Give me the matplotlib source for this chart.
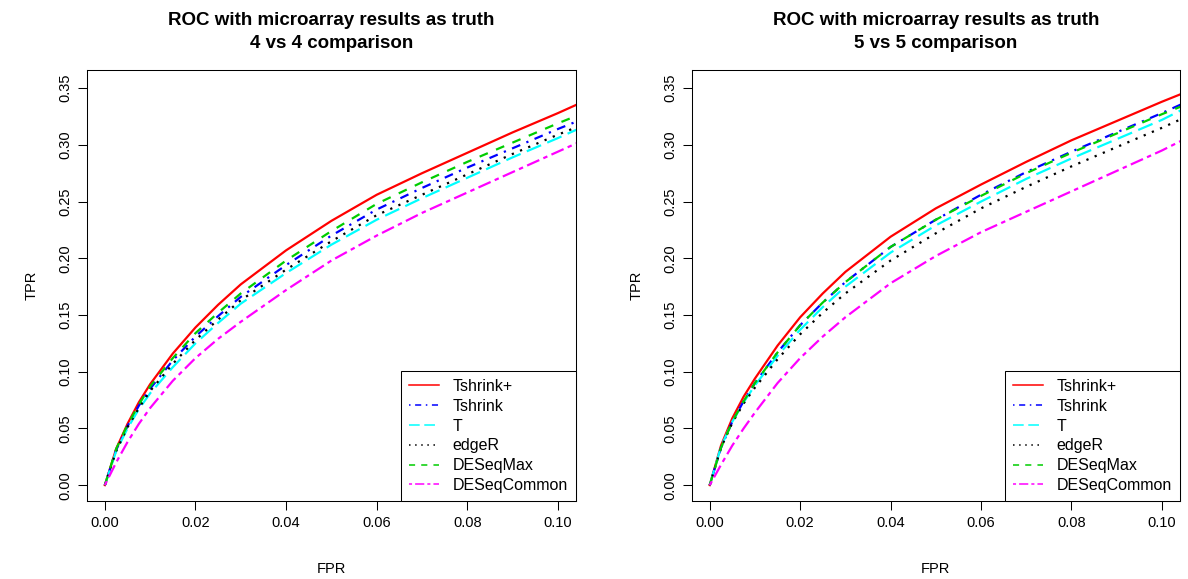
import matplotlib
matplotlib.use("Agg")
import matplotlib.pyplot as plt

plt.rcParams["font.family"] = ["Liberation Sans", "DejaVu Sans"]

# FPR grid shared by all curves
fpr = [0, 0.0025, 0.005, 0.0075, 0.01, 0.015, 0.02, 0.025, 0.03,
       0.04, 0.05, 0.06, 0.07, 0.08, 0.09, 0.10, 0.105]

methods = ["Tshrink+", "Tshrink", "T", "edgeR", "DESeqMax", "DESeqCommon"]

# 4 vs 4 comparison
tpr4_tshrink_plus = [0, 0.032, 0.054, 0.073, 0.089, 0.116, 0.139, 0.159, 0.177,
                     0.207, 0.233, 0.256, 0.275, 0.293, 0.311, 0.328, 0.337]
tpr4_tshrink = [0, 0.031, 0.052, 0.070, 0.085, 0.110, 0.131, 0.149, 0.166,
                0.194, 0.220, 0.243, 0.262, 0.280, 0.297, 0.314, 0.322]
tpr4_t = [0, 0.030, 0.050, 0.067, 0.081, 0.104, 0.125, 0.143, 0.160,
          0.187, 0.212, 0.234, 0.253, 0.271, 0.289, 0.306, 0.315]
tpr4_edger = [0, 0.030, 0.051, 0.068, 0.083, 0.107, 0.128, 0.146, 0.163,
              0.190, 0.215, 0.238, 0.256, 0.274, 0.292, 0.309, 0.317]
tpr4_deseqmax = [0, 0.032, 0.053, 0.071, 0.087, 0.112, 0.134, 0.152, 0.169,
                 0.198, 0.224, 0.248, 0.267, 0.285, 0.302, 0.319, 0.327]
tpr4_deseqcommon = [0, 0.020, 0.038, 0.054, 0.068, 0.092, 0.112, 0.129, 0.144,
                    0.172, 0.198, 0.220, 0.240, 0.258, 0.276, 0.294, 0.303]

# 5 vs 5 comparison
tpr5_tshrink_plus = [0, 0.035, 0.059, 0.078, 0.094, 0.123, 0.148, 0.169, 0.188,
                     0.219, 0.244, 0.265, 0.285, 0.304, 0.321, 0.338, 0.346]
tpr5_tshrink = [0, 0.033, 0.056, 0.074, 0.090, 0.117, 0.141, 0.161, 0.179,
                0.210, 0.234, 0.256, 0.276, 0.294, 0.311, 0.328, 0.337]
tpr5_t = [0, 0.034, 0.056, 0.073, 0.088, 0.114, 0.137, 0.157, 0.175,
          0.205, 0.229, 0.250, 0.270, 0.288, 0.305, 0.322, 0.332]
tpr5_edger = [0, 0.033, 0.055, 0.072, 0.086, 0.111, 0.133, 0.152, 0.169,
              0.198, 0.222, 0.244, 0.263, 0.281, 0.298, 0.315, 0.324]
tpr5_deseqmax = [0, 0.033, 0.056, 0.074, 0.090, 0.117, 0.141, 0.161, 0.179,
                 0.210, 0.234, 0.255, 0.275, 0.293, 0.310, 0.327, 0.335]
tpr5_deseqcommon = [0, 0.018, 0.035, 0.050, 0.064, 0.090, 0.112, 0.131, 0.148,
                    0.178, 0.202, 0.223, 0.241, 0.259, 0.277, 0.295, 0.305]

xticks = [0.00, 0.02, 0.04, 0.06, 0.08, 0.10]
yticks = [0.00, 0.05, 0.10, 0.15, 0.20, 0.25, 0.30, 0.35]

# R-like colours and line types (dash lengths in line-width units)
colors = ["red", "blue", "cyan", "black", "#00CD00", "magenta"]
dashes = [None, (1, 3, 4, 3), (7, 3), (1, 3), (4, 4), (2, 2, 6, 2)]


def draw_panel(ax, curves, title):
    for tpr, col, dsh, name in zip(curves, colors, dashes, methods):
        kw = {} if dsh is None else {"dashes": dsh}
        ax.plot(fpr, tpr, color=col, lw=1.6, label=name,
                dash_capstyle="butt", **kw)

    ax.set_xlim(-0.004, 0.104)
    ax.set_ylim(-0.014, 0.366)
    ax.set_xticks(xticks)
    ax.set_xticklabels([f"{v:.2f}" for v in xticks])
    ax.set_yticks(yticks)
    ax.set_yticklabels([f"{v:.2f}" for v in yticks], rotation=90, va="center")
    ax.tick_params(length=6.5, width=0.75, labelsize=10.5, pad=4)
    for s in ax.spines.values():
        s.set_linewidth(0.75)
    ax.set_xlabel("FPR", fontsize=10.5, labelpad=23)
    ax.set_ylabel("TPR", fontsize=10.5, labelpad=14)
    ax.set_title(title, fontsize=13.5, fontweight="bold", pad=16, linespacing=1.45)

    leg = ax.legend(loc="lower right", borderaxespad=0, fancybox=False,
                    edgecolor="black", framealpha=1, fontsize=11.5,
                    handlelength=1.9, handletextpad=0.85, labelspacing=0.3,
                    borderpad=0.5)
    leg.get_frame().set_linewidth(0.75)
    for ln in leg.get_lines():
        ln.set_linewidth(1.1)


fig = plt.figure(figsize=(11.88, 5.79), dpi=100)
ax1 = fig.add_axes([0.0730, 0.1347, 0.4119, 0.7444])
ax2 = fig.add_axes([0.5822, 0.1347, 0.4110, 0.7444])

draw_panel(ax1, [tpr4_tshrink_plus, tpr4_tshrink, tpr4_t, tpr4_edger,
                 tpr4_deseqmax, tpr4_deseqcommon],
           "ROC with microarray results as truth\n4 vs 4 comparison")
draw_panel(ax2, [tpr5_tshrink_plus, tpr5_tshrink, tpr5_t, tpr5_edger,
                 tpr5_deseqmax, tpr5_deseqcommon],
           "ROC with microarray results as truth\n5 vs 5 comparison")

fig.savefig("out.png", dpi=100)
